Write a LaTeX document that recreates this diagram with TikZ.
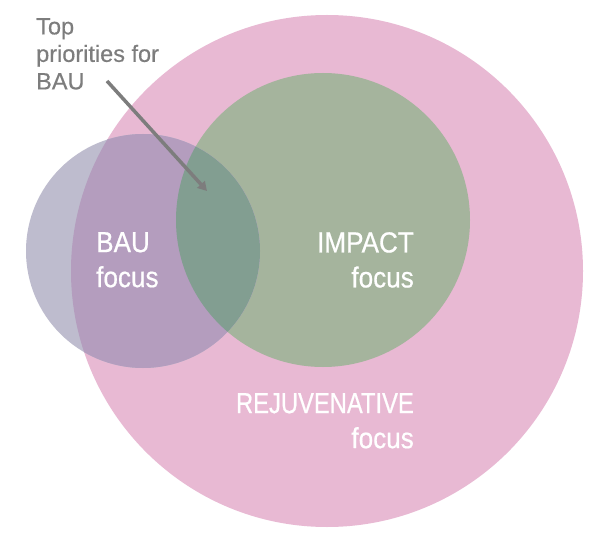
\documentclass[tikz,border=0pt]{standalone}
\usepackage{fontspec}
\setmainfont{Liberation Sans}[FakeStretch=0.9,FakeBold=0.6]
\newfontfamily\notefont{Liberation Sans}[FakeBold=0.4]
\usetikzlibrary{arrows.meta}
\definecolor{rejpink}{HTML}{E8B9D3}
\definecolor{impgreen}{HTML}{A5B49D}
\definecolor{baugray}{HTML}{BEBCCE}
\definecolor{baupurple}{HTML}{B49DBE}
\definecolor{bauteal}{HTML}{829E91}
\definecolor{notegray}{HTML}{7D7D7D}
\tikzset{
  bigtext/.style={text=white, inner sep=0pt, font=\fontsize{29}{35}\selectfont},
  notetext/.style={text=notegray, inner sep=0pt, align=left, anchor=north west, font=\notefont\fontsize{23.5}{27.5}\selectfont},
  arrowline/.style={draw=notegray, line width=3.5pt, -{Triangle[length=9pt,width=10pt]}},
}
\begin{document}
\begin{tikzpicture}[x=1pt,y=-1pt]
\useasboundingbox (0,0) rectangle (600,540);
\fill[white] (0,0) rectangle (600,540);
% centres
\coordinate (rejc) at (327,271);
\coordinate (impc) at (323,220);
\coordinate (bauc) at (143,251);
% circles
\fill[rejpink] (rejc) circle (256);
\fill[impgreen] (impc) circle (147);
\fill[baugray] (bauc) circle (117);
\begin{scope}
  \clip (bauc) circle (117);
  \fill[baupurple] (rejc) circle (256);
  \fill[bauteal] (impc) circle (147);
\end{scope}
% labels
\node[bigtext, align=left, anchor=north west] (baulabel) at (96,232) {BAU\\focus};
\node[bigtext, align=right, anchor=north east] (implabel) at (414,232) {IMPACT\\focus};
\node[bigtext, align=right, anchor=north east] (rejlabel) at (414,393) {\scalebox{0.91}[1]{REJUVENATIVE}\\focus};
\node[notetext] (notelabel) at (36,18) {Top\\priorities for\\BAU};
% arrow
\coordinate (arrowstart) at (107,81);
\coordinate (arrowend) at (207,191);
\draw[arrowline] (arrowstart) -- (arrowend);
\end{tikzpicture}
\end{document}
